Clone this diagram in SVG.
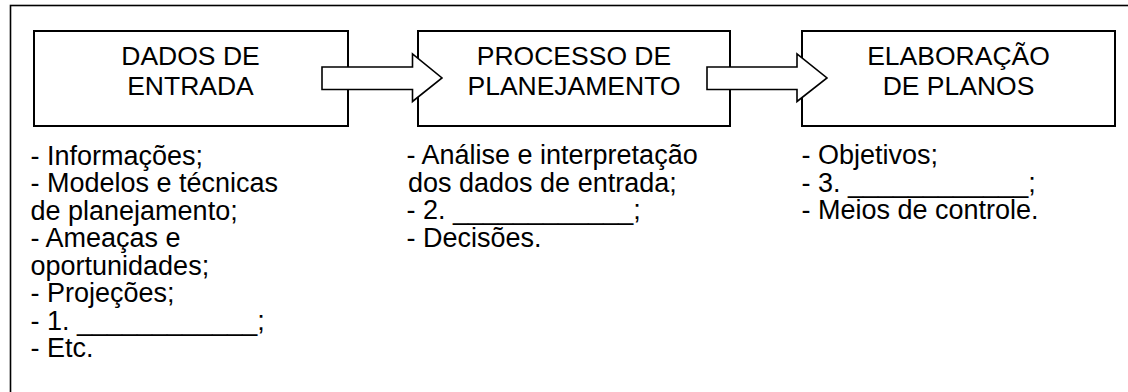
<svg xmlns="http://www.w3.org/2000/svg" width="1128" height="392" viewBox="0 0 1128 392">
<style>
.box{fill:#fff;stroke:#000;stroke-width:2}
.frame{fill:none;stroke:#000;stroke-width:1.6}
.arrow{fill:#fff;stroke:#000;stroke-width:1.6;stroke-linejoin:miter}
.t{font-family:"Liberation Sans",Arial,sans-serif;font-size:27px;fill:#000}
.h{font-family:"Liberation Sans",Arial,sans-serif;font-size:26.5px;fill:#000;text-anchor:middle}
</style>
<rect width="1128" height="392" fill="#fff"/>
<rect class="frame" x="10.5" y="5.5" width="1130" height="400"/>
<g id="node-dados">
<rect class="box" x="34" y="31" width="314" height="95"/>
<text class="h" x="190.5" y="65">DADOS DE</text>
<text class="h" x="190.5" y="95">ENTRADA</text>
</g>
<g id="node-processo">
<rect class="box" x="418" y="31" width="312" height="95"/>
<text class="h" x="574" y="65">PROCESSO DE</text>
<text class="h" x="574" y="95">PLANEJAMENTO</text>
</g>
<g id="node-elaboracao">
<rect class="box" x="802" y="31" width="313" height="95"/>
<text class="h" x="958.5" y="65">ELABORAÇÃO</text>
<text class="h" x="958.5" y="95">DE PLANOS</text>
</g>
<g id="connectors">
<polygon class="arrow" points="322,67 412.5,67 412.5,54 442,78 412.5,101.5 412.5,89.5 322,89.5"/>
<polygon class="arrow" points="707,67 797,67 797,54 827,78 797,101.5 797,89.5 707,89.5"/>
</g>
<g id="list-dados">
<text class="t" x="30.5" y="164.5">- Informações;</text>
<text class="t" x="30.5" y="192">- Modelos e técnicas</text>
<text class="t" x="30.5" y="219.5">de planejamento;</text>
<text class="t" x="30.5" y="247">- Ameaças e</text>
<text class="t" x="30.5" y="274.5">oportunidades;</text>
<text class="t" x="30.5" y="302">- Projeções;</text>
<text class="t" x="30.5" y="329.5">- 1. ____________;</text>
<text class="t" x="30.5" y="357">- Etc.</text>
</g>
<g id="list-processo">
<text class="t" x="406.5" y="164">- Análise e interpretação</text>
<text class="t" x="408" y="191.5">dos dados de entrada;</text>
<text class="t" x="406.5" y="219">- 2. ____________;</text>
<text class="t" x="406.5" y="246.5">- Decisões.</text>
</g>
<g id="list-elaboracao">
<text class="t" x="801.5" y="164">- Objetivos;</text>
<text class="t" x="801.5" y="191.5">- 3. ____________;</text>
<text class="t" x="801.5" y="219">- Meios de controle.</text>
</g>
</svg>
